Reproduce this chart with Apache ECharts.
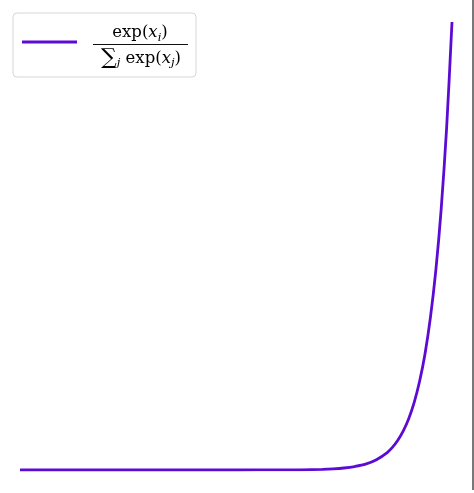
<!DOCTYPE html>
<html>
<head>
<meta charset="utf-8">
<style>
  html, body { margin: 0; padding: 0; background: #ffffff; }
  #chart { width: 474px; height: 493px; }
</style>
<script src="https://cdn.jsdelivr.net/npm/echarts@6/dist/echarts.min.js"></script>
</head>
<body>
<div id="chart"></div>
<script>
// Softmax curve, values (relative to the top point)
const xValues = [-10, 0, 2, 3, 4, 4.5, 5, 5.5, 6, 6.5, 7, 7.25, 7.5, 7.75, 8, 8.25, 8.5, 8.75, 9, 9.25, 9.5, 9.75, 10];
const yValues = [0, 0.00002, 0.0002, 0.0005, 0.0015, 0.0026, 0.0045, 0.0078, 0.013, 0.023, 0.039, 0.051, 0.067, 0.088, 0.115, 0.151, 0.198, 0.259, 0.340, 0.445, 0.583, 0.763, 1.0];

const lineColor = '#5c0bd4';
const mathFont = '"DejaVu Serif", "Liberation Serif", serif';

const seriesData = xValues.map((x, i) => [x, yValues[i]]);

const chart = echarts.init(document.getElementById('chart'));

const mathRich = {
    n: { fontFamily: mathFont, fontSize: 16.5, color: '#111', lineHeight: 22, verticalAlign: 'middle' },
    v: { fontFamily: mathFont, fontSize: 16.5, fontStyle: 'italic', color: '#111', lineHeight: 22, verticalAlign: 'middle' },
    s: { fontFamily: mathFont, fontSize: 11.5, fontStyle: 'italic', color: '#111', lineHeight: 21, verticalAlign: 'bottom' },
    b: { fontFamily: mathFont, fontSize: 22, color: '#111', lineHeight: 22, verticalAlign: 'middle' }
};

const option = {
    backgroundColor: '#ffffff',
    animation: false,
    grid: { left: 20, right: 22, top: 22, bottom: 23 },
    xAxis: {
        type: 'value',
        min: -10,
        max: 10,
        show: false
    },
    yAxis: {
        type: 'value',
        min: 0,
        max: 1,
        show: false
    },
    series: [{
        type: 'line',
        data: seriesData,
        smooth: 0.3,
        showSymbol: false,
        lineStyle: { color: lineColor, width: 2.8 }
    }],
    graphic: [
        // legend box
        {
            type: 'rect',
            shape: { x: 13, y: 13, width: 183, height: 64, r: 4 },
            style: { fill: 'rgba(255,255,255,0.8)', stroke: '#d6d6d6', lineWidth: 1 },
            z: 10
        },
        {
            type: 'line',
            shape: { x1: 22, y1: 42, x2: 77, y2: 42 },
            style: { stroke: lineColor, lineWidth: 2.8 },
            z: 11
        },
        {
            type: 'text',
            x: 140, y: 33,
            style: {
                text: '{n|exp(}{v|x}{s|i}{n|)}',
                rich: mathRich,
                align: 'center',
                verticalAlign: 'middle'
            },
            z: 11
        },
        {
            type: 'line',
            shape: { x1: 93, y1: 44.5, x2: 188, y2: 44.5 },
            style: { stroke: '#111', lineWidth: 1 },
            z: 11
        },
        {
            type: 'text',
            x: 141, y: 58.5,
            style: {
                text: '{b|∑}{s|j}{n| exp(}{v|x}{s|j}{n|)}',
                rich: mathRich,
                align: 'center',
                verticalAlign: 'middle'
            },
            z: 11
        },
        // grey strip at the right edge of the picture
        {
            type: 'rect',
            shape: { x: 472, y: 0, width: 2, height: 490 },
            style: { fill: '#787878' },
            z: 11
        }
    ]
};

chart.setOption(option);

window.addEventListener('resize', () => {
    chart.resize();
});
</script>
</body>
</html>
